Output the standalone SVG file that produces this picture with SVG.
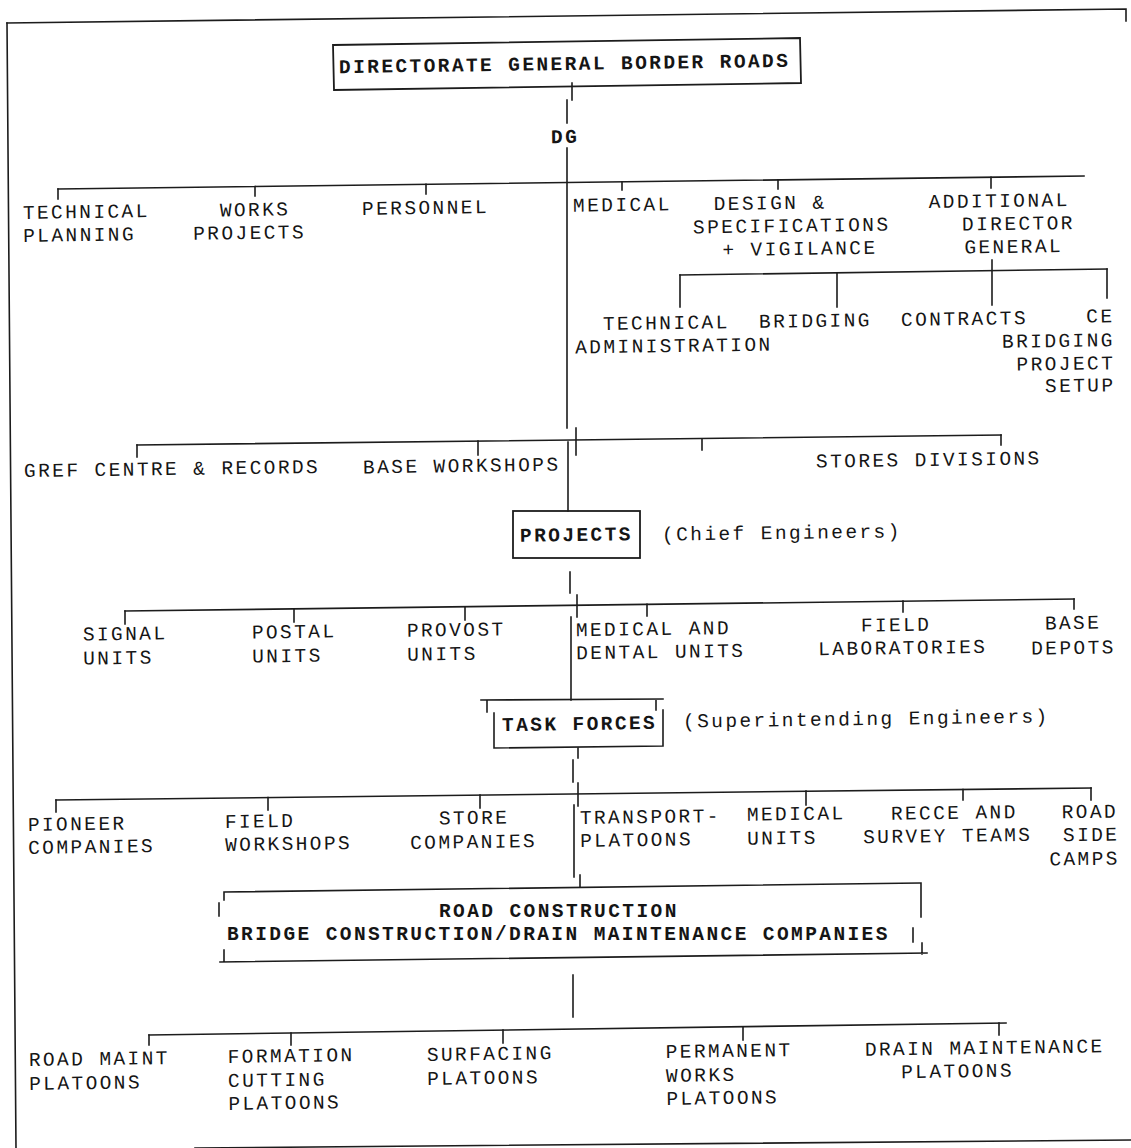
<svg xmlns="http://www.w3.org/2000/svg" width="1131" height="1148" viewBox="0 0 1131 1148">
<style>
text{font-family:"Liberation Mono","DejaVu Sans Mono",monospace;font-size:19.5px;letter-spacing:2.4px;fill:#151515;transform-box:fill-box;transform-origin:center;transform:rotate(-0.8deg)}
.b{font-weight:bold}
.r{text-anchor:end}
.flat{transform:none}
.ln{stroke:#1c1c1c;stroke-width:1.6;fill:none;stroke-linecap:square}
.bx{stroke:#1c1c1c;stroke-width:1.8;fill:none}
</style>
<rect width="1131" height="1148" fill="#fff"/>
<g id="frame" class="ln">
<path d="M7,23 L1126,9 L1126,21"/>
<path d="M7,23 L16,1148"/>
<path d="M195,1148 L1131,1140"/>
</g>
<g id="connectors" class="ln">
<path d="M572,83 V100 M567,100 V123 M567,148 V428"/>
<path d="M58,189 L1084,176"/>
<path d="M58,189 V199 M255,186.5 V196 M426,184.3 V194 M622,181.9 V190 M778,179.9 V189 M991,177.2 V188"/>
<path d="M992,260 V305"/>
<path d="M680,275 L1107,269"/>
<path d="M680,275 V307 M837,273 V307 M1107,269 V298"/>
<path d="M137,445 L1001,435"/>
<path d="M137,445 V457 M478,441 V455 M576,428 V455 M702,439 V450 M1001,435 V445"/>
<path d="M568,442 V511"/>
<path d="M570,572 V593 M577,595 V617"/>
<path d="M125,611 L1074,599"/>
<path d="M125,611 V624 M294,609 V622 M465,607 V620 M647,604.4 V616 M903,601 V612 M1074,599 V609"/>
<path d="M571,617 V700"/>
<path d="M578,748 V758 M573,760 V782 M578,783 V806"/>
<path d="M56,800 L1091,788"/>
<path d="M56,800 V812 M268,797.5 V810 M480,795 V808 M806,791 V805 M963,789.5 V800 M1091,788 V800"/>
<path d="M574,805 V877 M580,875 V887"/>
<path d="M573,975 V1017"/>
<path d="M149,1035 L1006,1023"/>
<path d="M149,1035 V1045 M291,1033 V1045 M503,1030 V1043 M743,1026.7 V1040 M999,1023 V1035"/>
</g>
<g id="dgbr">
<polygon class="bx" points="333,45 800,38 801,83 334,90"/>
<text class="b" x="339" y="70">DIRECTORATE GENERAL BORDER ROADS</text>
</g>
<g id="dg"><text class="b" x="551" y="143">DG</text></g>
<g id="technical-planning"><text><tspan x="23" y="218">TECHNICAL</tspan><tspan x="23" y="241">PLANNING</tspan></text></g>
<g id="works-projects"><text><tspan x="220" y="216">WORKS</tspan><tspan x="193" y="239">PROJECTS</tspan></text></g>
<g id="personnel"><text x="362" y="214">PERSONNEL</text></g>
<g id="medical"><text x="573" y="211">MEDICAL</text></g>
<g id="design"><text><tspan x="714" y="209">DESIGN &amp;</tspan><tspan x="693" y="232">SPECIFICATIONS</tspan><tspan x="722" y="255">+ VIGILANCE</tspan></text></g>
<g id="adg"><text><tspan x="929" y="207">ADDITIONAL</tspan><tspan x="962" y="230">DIRECTOR</tspan><tspan x="964" y="253">GENERAL</tspan></text></g>
<g id="tech-admin"><text><tspan x="603" y="329">TECHNICAL</tspan><tspan x="575" y="352">ADMINISTRATION</tspan></text></g>
<g id="bridging"><text x="759" y="327">BRIDGING</text></g>
<g id="contracts"><text x="901" y="325">CONTRACTS</text></g>
<g id="ce-bridging"><text class="r"><tspan x="1115" y="323">CE</tspan><tspan x="1115" y="347">BRIDGING</tspan><tspan x="1115" y="370">PROJECT</tspan><tspan x="1115" y="392">SETUP</tspan></text></g>
<g id="gref"><text x="24" y="475">GREF CENTRE &amp; RECORDS</text></g>
<g id="base-workshops"><text x="363" y="472">BASE WORKSHOPS</text></g>
<g id="stores"><text x="816" y="466">STORES DIVISIONS</text></g>
<g id="projects">
<rect class="bx" x="513" y="511" width="127" height="47"/>
<text class="b" x="520" y="541">PROJECTS</text>
<text x="662" y="539">(Chief Engineers)</text>
</g>
<g id="signal"><text><tspan x="83" y="640">SIGNAL</tspan><tspan x="83" y="664">UNITS</tspan></text></g>
<g id="postal"><text><tspan x="252" y="638">POSTAL</tspan><tspan x="252" y="662">UNITS</tspan></text></g>
<g id="provost"><text><tspan x="407" y="636">PROVOST</tspan><tspan x="407" y="660">UNITS</tspan></text></g>
<g id="med-dental"><text><tspan x="576" y="635">MEDICAL AND</tspan><tspan x="576" y="658">DENTAL UNITS</tspan></text></g>
<g id="field-lab"><text><tspan x="861" y="631">FIELD</tspan><tspan x="818" y="654">LABORATORIES</tspan></text></g>
<g id="base-depots"><text><tspan x="1045" y="629">BASE</tspan><tspan x="1031" y="654">DEPOTS</tspan></text></g>
<g id="task-forces">
<path class="ln" d="M481,700 L663,699 M487,700 V712 M656,700 V710 M494,713 V748 L663,746 V710"/>
<text class="b" x="502" y="730">TASK FORCES</text>
<text x="683" y="725">(Superintending Engineers)</text>
</g>
<g id="pioneer"><text><tspan x="28" y="830">PIONEER</tspan><tspan x="28" y="853">COMPANIES</tspan></text></g>
<g id="field-ws"><text><tspan x="225" y="827">FIELD</tspan><tspan x="225" y="850">WORKSHOPS</tspan></text></g>
<g id="store-co"><text><tspan x="439" y="824">STORE</tspan><tspan x="410" y="848">COMPANIES</tspan></text></g>
<g id="transport"><text><tspan x="580" y="823">TRANSPORT-</tspan><tspan x="580" y="846">PLATOONS</tspan></text></g>
<g id="medical-units"><text><tspan x="747" y="820">MEDICAL</tspan><tspan x="747" y="844">UNITS</tspan></text></g>
<g id="recce"><text><tspan x="891" y="819">RECCE AND</tspan><tspan x="863" y="842">SURVEY TEAMS</tspan></text></g>
<g id="road-side"><text><tspan x="1062" y="818">ROAD</tspan><tspan x="1063" y="841">SIDE</tspan><tspan x="1049" y="865">CAMPS</tspan></text></g>
<g id="construction">
<path class="ln" d="M224,892 L920,883 M224,892 V900 M219,903 V916 M224,950 V961 M921,883 V917 M913,928 V942 M922,943 V954 M220,962 L927,953"/>
<text class="b flat" x="439" y="917">ROAD CONSTRUCTION</text>
<text class="b flat" x="227" y="940">BRIDGE CONSTRUCTION/DRAIN MAINTENANCE COMPANIES</text>
</g>
<g id="road-maint"><text><tspan x="29" y="1065">ROAD MAINT</tspan><tspan x="29" y="1089">PLATOONS</tspan></text></g>
<g id="formation"><text><tspan x="228" y="1062">FORMATION</tspan><tspan x="228" y="1086">CUTTING</tspan><tspan x="228" y="1109">PLATOONS</tspan></text></g>
<g id="surfacing"><text><tspan x="427" y="1060">SURFACING</tspan><tspan x="427" y="1084">PLATOONS</tspan></text></g>
<g id="permanent"><text><tspan x="666" y="1057">PERMANENT</tspan><tspan x="666" y="1081">WORKS</tspan><tspan x="666" y="1104">PLATOONS</tspan></text></g>
<g id="drain"><text><tspan x="865" y="1054">DRAIN MAINTENANCE</tspan><tspan x="901" y="1077">PLATOONS</tspan></text></g>
</svg>
